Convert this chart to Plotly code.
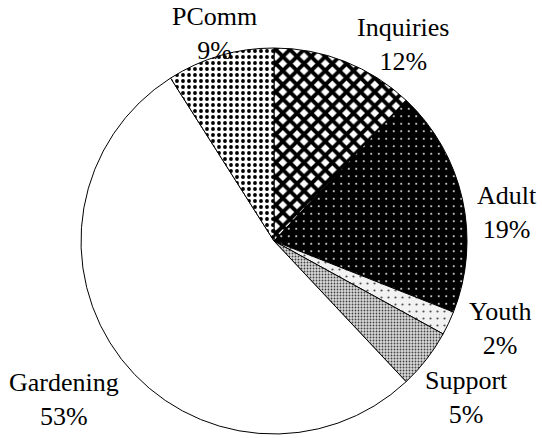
import plotly.graph_objects as go

# Data
categories = ["Inquiries", "Adult", "Youth", "Support", "Gardening", "PComm"]
values = [12, 19, 2, 5, 53, 9]
pct_labels = ["12%", "19%", "2%", "5%", "53%", "9%"]

W, H = 542, 438

# pattern styles per slice
shapes = ["x", ".", ".", ".", "", "."]
fgcolors = ["#000000", "#ffffff", "#555555", "#444444", "#000000", "#000000"]
bgcolors = ["#ffffff", "#000000", "#f2f2f2", "#d9d9d9", "#ffffff", "#ffffff"]
psizes = [10, 7.5, 7, 3, 8, 6]
solid = [0.62, 0.05, 0.08, 0.3, 0.1, 0.32]

# pie geometry (pixels)
cx, cy, r = 274, 241, 193

fig = go.Figure()
fig.add_trace(go.Pie(
    labels=categories,
    values=values,
    sort=False,
    direction="clockwise",
    rotation=0,
    textinfo="none",
    hoverinfo="label+percent",
    marker=dict(
        colors=bgcolors,
        line=dict(color="#000000", width=1),
        pattern=dict(shape=shapes, fgcolor=fgcolors, bgcolor=bgcolors,
                     size=psizes, solidity=solid, fillmode="replace"),
    ),
    domain=dict(x=[(cx - r) / W, (cx + r) / W],
                y=[1 - (cy + r) / H, 1 - (cy - r) / H]),
    showlegend=False,
))

# label positions (pixel centers of text blocks)
label_pos = [(403, 44), (507, 213), (500, 328), (466, 397), (64, 399), (214, 34)]
for name, pct, (px, py) in zip(categories, pct_labels, label_pos):
    fig.add_annotation(
        x=px / W, y=1 - py / H, xref="paper", yref="paper",
        text=f"{name}<br>{pct}", showarrow=False,
        xanchor="center", yanchor="middle", align="center",
        font=dict(family="Liberation Serif", size=26, color="#000000"),
    )

fig.update_layout(
    width=W, height=H,
    margin=dict(l=0, r=0, t=0, b=0),
    paper_bgcolor="#ffffff", plot_bgcolor="#ffffff",
    showlegend=False,
)

fig.write_html(
    "out.html",
    config={"displayModeBar": False},
    post_script="document.body.style.margin='0';document.body.style.overflow='hidden';",
)
